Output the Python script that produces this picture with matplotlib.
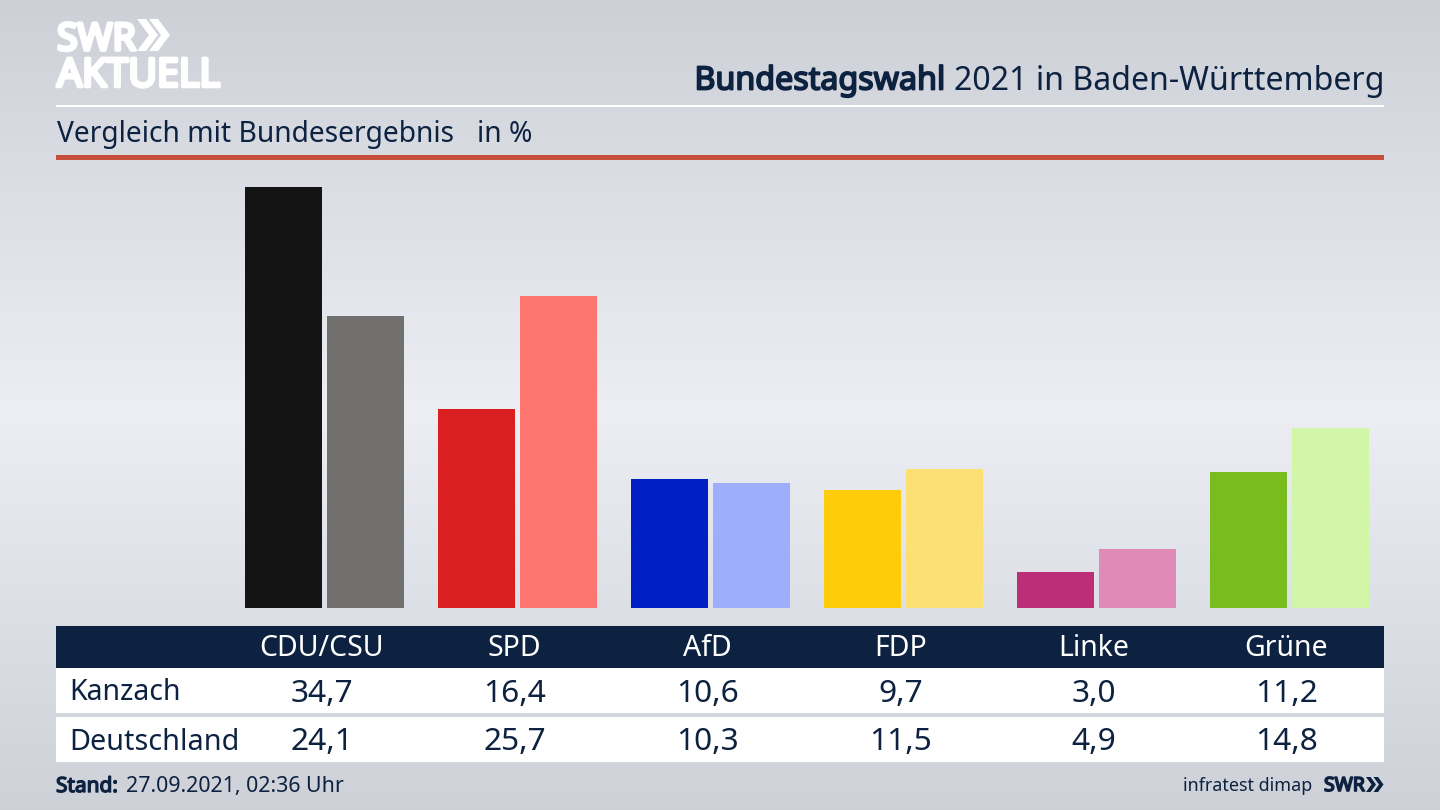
import numpy as np
import matplotlib
matplotlib.use("Agg")
import matplotlib.pyplot as plt
import matplotlib.patheffects as pe
from matplotlib.patches import Rectangle, Polygon
from matplotlib.transforms import blended_transform_factory

parties = ["CDU/CSU", "SPD", "AfD", "FDP", "Linke", "Grüne"]
kanzach = [34.7, 16.4, 10.6, 9.7, 3.0, 11.2]
deutschland = [24.1, 25.7, 10.3, 11.5, 4.9, 14.8]
colors_k = ["#141414", "#d91f1f", "#0020c4", "#ffcc0a", "#bc2f78", "#78bc1e"]
colors_d = ["#71706e", "#ff7570", "#9fadff", "#fde073", "#e08ab8", "#d2f6a8"]
row_names = ["Kanzach", "Deutschland"]

plt.rcParams['font.family'] = ['Noto Sans', 'DejaVu Sans']
NAVY = "#0c2240"
fig = plt.figure(figsize=(14.4, 8.1), dpi=100)
bg = fig.add_axes([0, 0, 1, 1])
bg.set_xlim(0, 1440); bg.set_ylim(810, 0); bg.axis("off")
c0 = np.array([0xcd, 0xd0, 0xd7]) / 255
c1 = np.array([0xec, 0xee, 0xf4]) / 255
t = 1 - np.abs(np.linspace(0, 810, 256) - 410) / 410
grad = (c0[None, :] + (c1 - c0)[None, :] * t[:, None])[:, None, :]
bg.imshow(grad, extent=[0, 1440, 810, 0], aspect="auto", zorder=0)

def fat(color, w):
    return [pe.withStroke(linewidth=w, foreground=color)]

def chevrons(x, y, th, s, h, gap, color):
    for dx in (0, gap):
        bg.add_patch(Polygon([(x+dx, y), (x+dx+th, y), (x+dx+th+s, y+h/2), (x+dx+th, y+h),
                              (x+dx, y+h), (x+dx+s, y+h/2)], color=color, lw=0, zorder=3))

# header
bg.text(57, 50, "SWR", color="white", fontsize=27, va="baseline", ha="left", zorder=3,
        path_effects=fat("white", 2.6))
chevrons(137, 19, 9, 12, 32, 12, "white")
bg.text(57, 86.5, "AKTUELL", color="white", fontsize=28.3, va="baseline", ha="left", zorder=3,
        path_effects=fat("white", 2.6))
bg.add_patch(Rectangle((56, 104.5), 1328, 2.5, color="white", lw=0, zorder=2))
bg.add_patch(Rectangle((56, 155), 1328, 5, color="#c94f3d", lw=0, zorder=2))
tb = bg.text(1385, 89.5, "2021 in Baden-Württemberg", color=NAVY, fontsize=23.1, ha="right", va="baseline", zorder=3)
fig.canvas.draw()
x0 = tb.get_window_extent().x0
bg.text(x0 - 9, 89.5, "Bundestagswahl", color=NAVY, fontsize=23.2, ha="right", va="baseline", zorder=3,
        path_effects=fat(NAVY, 1.3))
bg.text(57, 142, "Vergleich mit Bundesergebnis", color=NAVY, fontsize=20.3, ha="left", va="baseline", zorder=3)
bg.text(477, 142, "in %", color=NAVY, fontsize=20.3, ha="left", va="baseline", zorder=3)

# chart: baseline at y=608, 12.13 px per percent, 193 px per party
ax = fig.add_axes([0, (810 - 608) / 810, 1, (608 - 160) / 810])
ax.patch.set_alpha(0)
ax.axis("off")
ax.set_xlim(-324.5 / 193, (1440 - 324.5) / 193)
ax.set_ylim(0, 448 / 12.13)
x = np.arange(len(parties))
ax.bar(x - 0.2124, kanzach, width=0.399, color=colors_k, linewidth=0)
ax.bar(x + 0.2124, deutschland, width=0.399, color=colors_d, linewidth=0)

# table
bg.add_patch(Rectangle((56, 626), 1328, 42, color=NAVY, lw=0, zorder=2))
bg.add_patch(Rectangle((56, 668), 1328, 45, color="white", lw=0, zorder=2))
bg.add_patch(Rectangle((56, 717), 1328, 45, color="white", lw=0, zorder=2))
tr = blended_transform_factory(ax.transData, bg.transData)
fs = 20.5
for i, p in enumerate(parties):
    xc = i - 3 / 193
    bg.text(xc, 656.5, p, color="white", fontsize=fs, ha="center", va="baseline", transform=tr, zorder=3)
    bg.text(xc, 701.5, f"{kanzach[i]:.1f}".replace(".", ","), color=NAVY, fontsize=22.8, ha="center", va="baseline", transform=tr, zorder=3)
    bg.text(xc, 750.5, f"{deutschland[i]:.1f}".replace(".", ","), color=NAVY, fontsize=22.8, ha="center", va="baseline", transform=tr, zorder=3)
bg.text(69.5, 700.5, row_names[0], color=NAVY, fontsize=fs, ha="left", va="baseline", zorder=3)
bg.text(69.5, 749.5, row_names[1], color=NAVY, fontsize=20.7, ha="left", va="baseline", zorder=3)

# footer
bg.text(56, 792, "Stand:", color=NAVY, fontsize=15, ha="left", va="baseline", zorder=3,
        path_effects=fat(NAVY, 1.0))
bg.text(126, 792, "27.09.2021, 02:36 Uhr", color=NAVY, fontsize=15.4, ha="left", va="baseline", zorder=3)
bg.text(1312, 791, "infratest dimap", color=NAVY, fontsize=12.9, ha="right", va="baseline", zorder=3)
bg.text(1324, 791, "SWR", color=NAVY, fontsize=14, ha="left", va="baseline", zorder=3,
        path_effects=fat(NAVY, 1.2))
chevrons(1366, 777, 4.5, 5.5, 15, 7.5, NAVY)

fig.savefig("out.png", dpi=100)
